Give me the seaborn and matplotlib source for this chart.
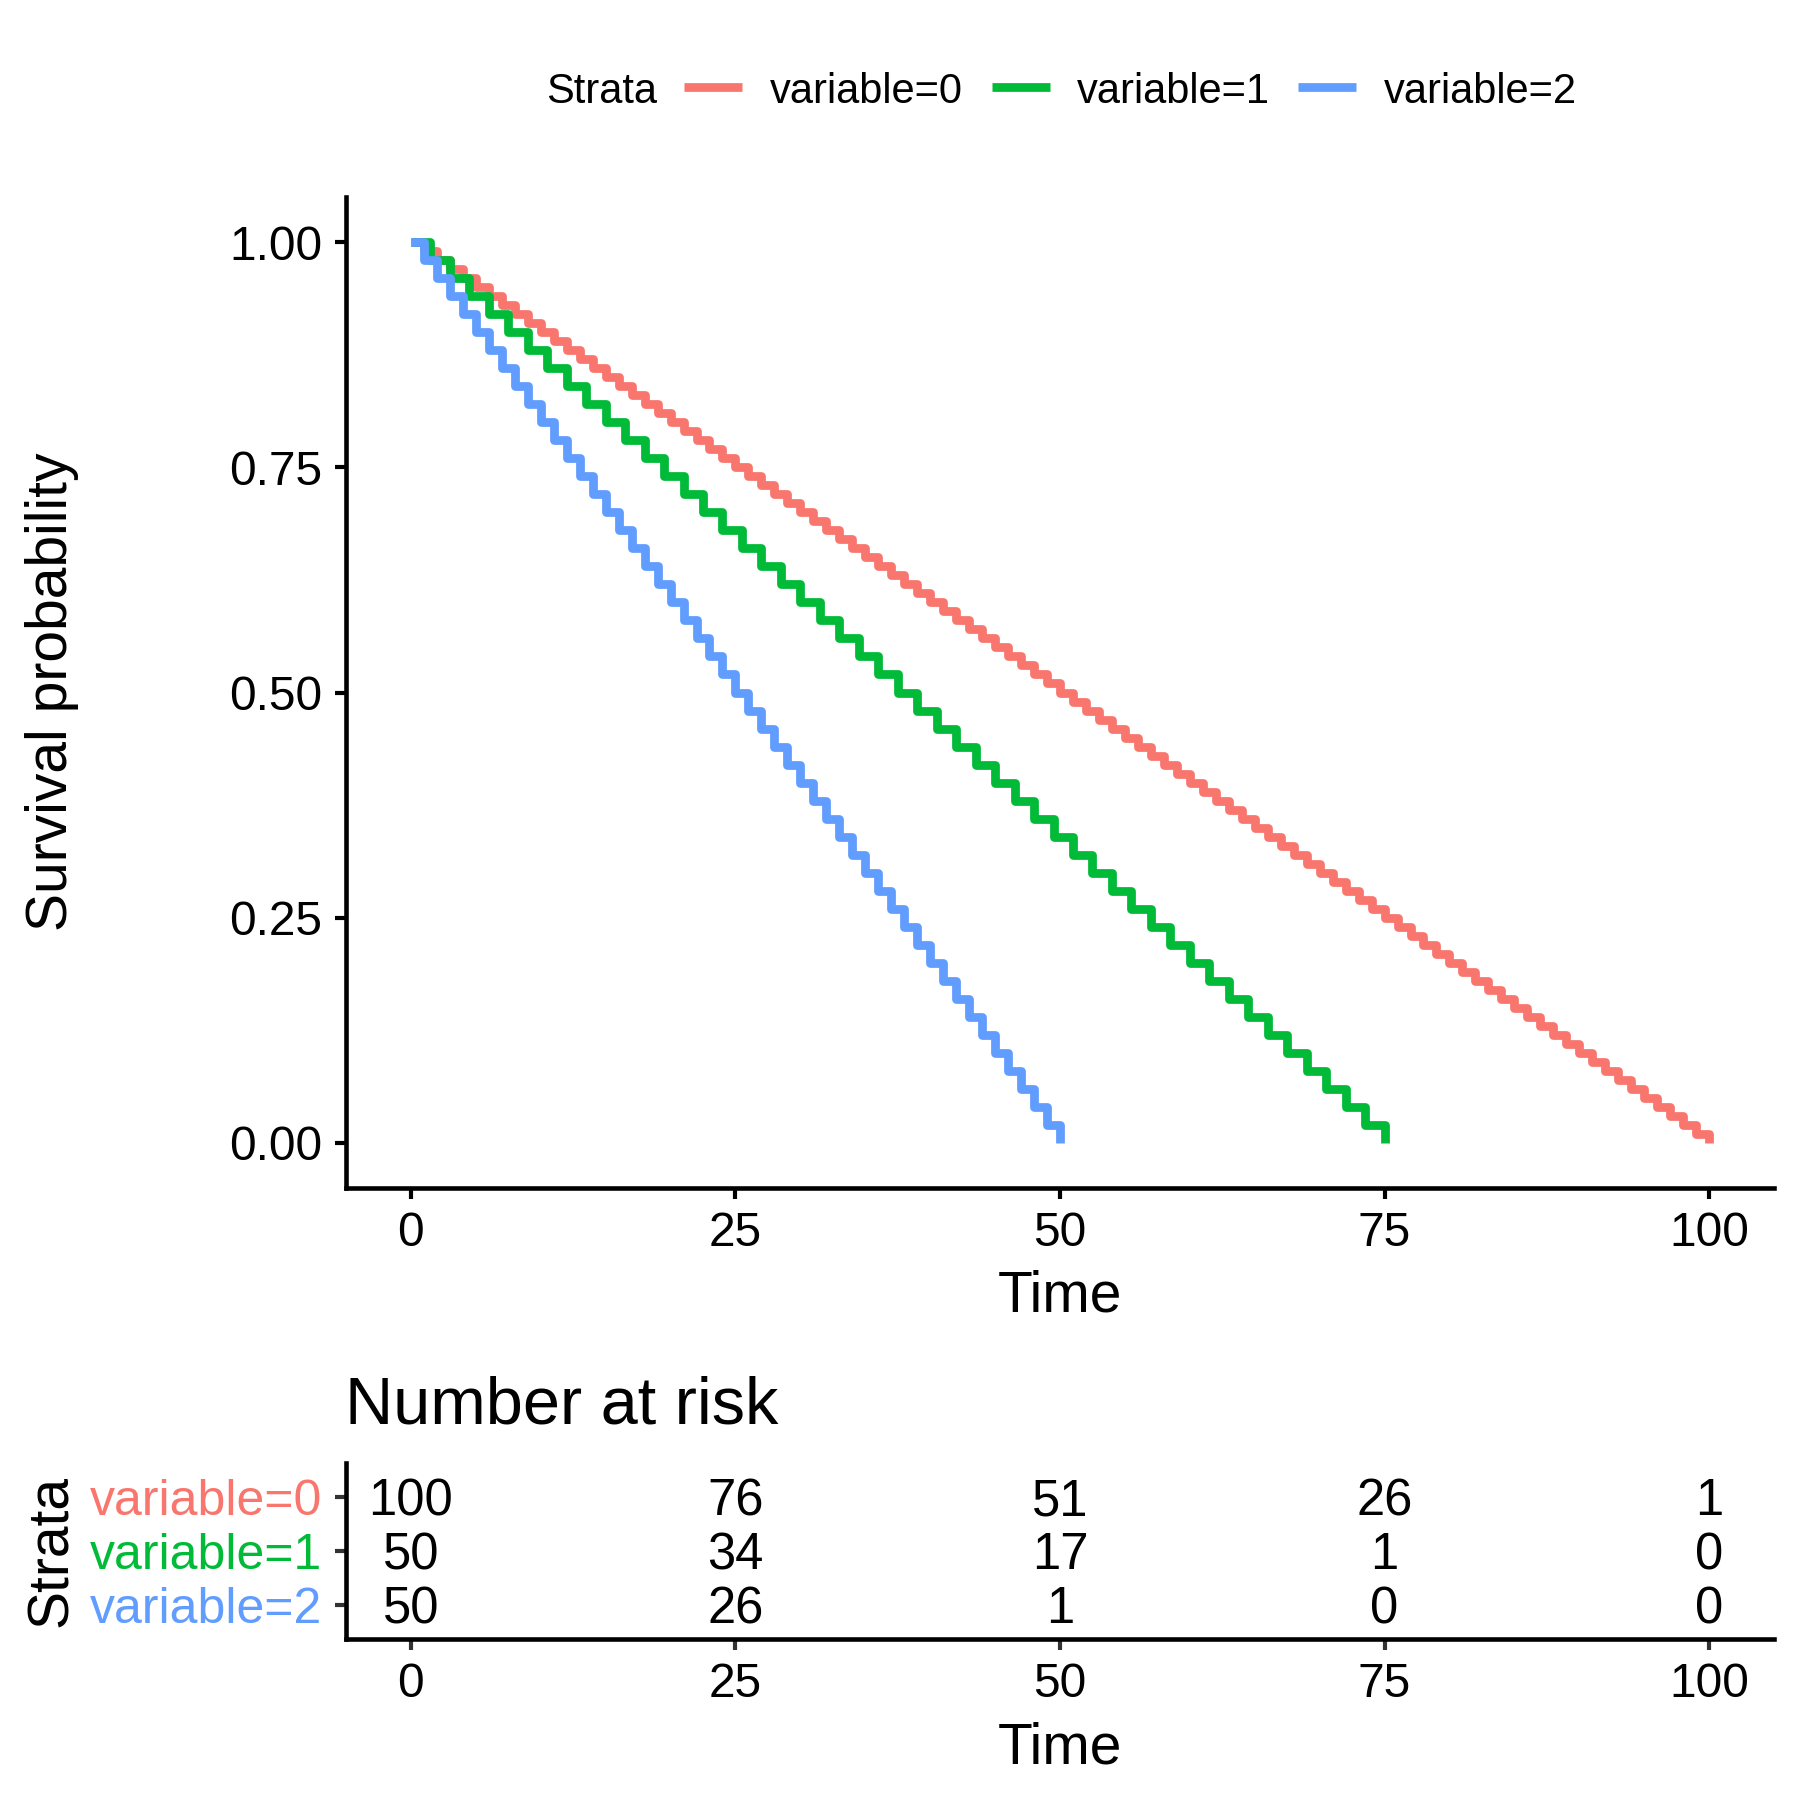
import numpy as np
import pandas as pd
import matplotlib
matplotlib.use("Agg")
import matplotlib.pyplot as plt
from matplotlib.lines import Line2D
from matplotlib.transforms import offset_copy
import seaborn as sns

# ---------------- data ----------------
strata = ["variable=0", "variable=1", "variable=2"]
colors = ["#F8766D", "#00BA38", "#619CFF"]

times_0 = [1, 2, 3, 4, 5, 6, 7, 8, 9, 10, 11, 12, 13, 14, 15, 16, 17, 18, 19, 20,
           21, 22, 23, 24, 25, 26, 27, 28, 29, 30, 31, 32, 33, 34, 35, 36, 37, 38, 39, 40,
           41, 42, 43, 44, 45, 46, 47, 48, 49, 50, 51, 52, 53, 54, 55, 56, 57, 58, 59, 60,
           61, 62, 63, 64, 65, 66, 67, 68, 69, 70, 71, 72, 73, 74, 75, 76, 77, 78, 79, 80,
           81, 82, 83, 84, 85, 86, 87, 88, 89, 90, 91, 92, 93, 94, 95, 96, 97, 98, 99, 100]
times_1 = [1.5, 3, 4.5, 6, 7.5, 9, 10.5, 12, 13.5, 15, 16.5, 18, 19.5, 21, 22.5, 24,
           25.5, 27, 28.5, 30, 31.5, 33, 34.5, 36, 37.5, 39, 40.5, 42, 43.5, 45, 46.5, 48,
           49.5, 51, 52.5, 54, 55.5, 57, 58.5, 60, 61.5, 63, 64.5, 66, 67.5, 69, 70.5, 72,
           73.5, 75]
times_2 = [1, 2, 3, 4, 5, 6, 7, 8, 9, 10, 11, 12, 13, 14, 15, 16, 17, 18, 19, 20,
           21, 22, 23, 24, 25, 26, 27, 28, 29, 30, 31, 32, 33, 34, 35, 36, 37, 38, 39, 40,
           41, 42, 43, 44, 45, 46, 47, 48, 49, 50]

risk_times = [0, 25, 50, 75, 100]
risk_0 = [100, 76, 51, 26, 1]
risk_1 = [50, 34, 17, 1, 0]
risk_2 = [50, 26, 1, 0, 0]

x_ticks = [0, 25, 50, 75, 100]
y_ticks = [0.00, 0.25, 0.50, 0.75, 1.00]
y_tick_labels = ["0.00", "0.25", "0.50", "0.75", "1.00"]


def km(times):
    """Kaplan-Meier product-limit estimate (no censoring present)."""
    t = np.sort(np.asarray(times, dtype=float))
    uniq, counts = np.unique(t, return_counts=True)
    n_risk = len(t) - np.concatenate([[0], np.cumsum(counts)[:-1]])
    surv = np.cumprod(1.0 - counts / n_risk)
    return np.concatenate([[0.0], uniq]), np.concatenate([[1.0], surv])


frames = []
for name, tt in zip(strata, [times_0, times_1, times_2]):
    x, s = km(tt)
    frames.append(pd.DataFrame({"time": x, "surv": s, "Strata": name}))
df = pd.concat(frames, ignore_index=True)

# ---------------- style ----------------
sns.set_theme(style="ticks", rc={
    "axes.edgecolor": "black", "axes.labelcolor": "black", "text.color": "black",
    "xtick.color": "black", "ytick.color": "black",
    "axes.linewidth": 1.1,
    "xtick.major.width": 1.0, "ytick.major.width": 1.0,
    "xtick.major.size": 2.75, "ytick.major.size": 2.75,
    "xtick.major.pad": 2.75, "ytick.major.pad": 3.0,
})
plt.rcParams["font.family"] = ["Liberation Sans", "DejaVu Sans"]

W = H = 1800.0
fig = plt.figure(figsize=(6, 6), dpi=300)


def fx(x):
    return x / W


def fy(y):
    return 1.0 - y / H


TICK_FS = 11.5
LABEL_FS = 13.7

# ---------------- main survival plot ----------------
ax = fig.add_axes([fx(346), fy(1188), fx(1774) - fx(346), fy(197) - fy(1188)])
sns.lineplot(data=df, x="time", y="surv", hue="Strata", hue_order=strata,
             palette=dict(zip(strata, colors)), estimator=None, sort=False,
             drawstyle="steps-post", linewidth=2.1, legend=False, ax=ax,
             solid_capstyle="butt", solid_joinstyle="round")
ax.set_xlim(-5, 105)
ax.set_ylim(-0.05, 1.05)
ax.set_xticks(x_ticks)
ax.set_xticklabels([str(v) for v in x_ticks], fontsize=TICK_FS)
ax.set_yticks(y_ticks)
ax.set_yticklabels(y_tick_labels, fontsize=TICK_FS)
sns.despine(ax=ax)
ax.set_xlabel("Time", fontsize=LABEL_FS, va="baseline")
ax.xaxis.set_label_coords(fx(1060), fy(1312), transform=fig.transFigure)
ax.set_ylabel("Survival probability", fontsize=LABEL_FS, va="baseline")
ax.yaxis.set_label_coords(fx(67), fy(692), transform=fig.transFigure)

# ---------------- legend (top) ----------------
LEG_FS = 10.0
fig.text(fx(546), fy(103), "Strata", fontsize=LEG_FS, va="baseline", ha="left")
key_x = [(684, 742), (992, 1050), (1298, 1356)]
lab_x = [770, 1077, 1384]
for (x0, x1), lx, name, c in zip(key_x, lab_x, strata, colors):
    fig.add_artist(Line2D([fx(x0), fx(x1)], [fy(87), fy(87)], color=c,
                          linewidth=2.1, solid_capstyle="butt",
                          transform=fig.transFigure))
    fig.text(fx(lx), fy(103), name, fontsize=LEG_FS, va="baseline", ha="left")

# ---------------- risk table ----------------
ax2 = fig.add_axes([fx(346), fy(1639), fx(1774) - fx(346), fy(1463) - fy(1639)])
ax2.set_xlim(-5, 105)
ax2.set_ylim(2.63, -0.63)
ax2.set_xticks(x_ticks)
ax2.set_xticklabels([str(v) for v in x_ticks], fontsize=TICK_FS)
ax2.set_yticks([0, 1, 2])
ax2.set_yticklabels(strata, fontsize=12)
ax2.tick_params(axis="both", colors="#333333", labelcolor="black")
for lbl, c in zip(ax2.get_yticklabels(), colors):
    lbl.set_color(c)
sns.despine(ax=ax2)
tr = offset_copy(ax2.transData, fig=fig, y=-4.4, units="points")
for row, counts in enumerate([risk_0, risk_1, risk_2]):
    for t, n in zip(risk_times, counts):
        ax2.text(t, row, str(n), fontsize=12.2, ha="center", va="baseline",
                 transform=tr, color="black")
ax2.set_xlabel("Time", fontsize=LABEL_FS, va="baseline")
ax2.xaxis.set_label_coords(fx(1060), fy(1763), transform=fig.transFigure)
ax2.set_ylabel("Strata", fontsize=LABEL_FS, va="baseline")
ax2.yaxis.set_label_coords(fx(67), fy(1551), transform=fig.transFigure)
fig.text(fx(345), fy(1424), "Number at risk", fontsize=16.0, ha="left",
         va="baseline")

fig.savefig("out.png", dpi=300, facecolor="white")
